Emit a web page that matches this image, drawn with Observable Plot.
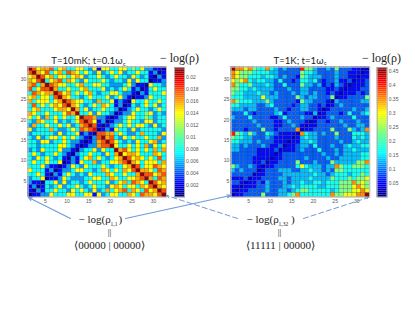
<!DOCTYPE html>
<html><head><meta charset="utf-8">
<script src="https://cdn.jsdelivr.net/npm/d3@7"></script>
<script src="https://cdn.jsdelivr.net/npm/@observablehq/plot@0.6"></script>
<style>
html,body{margin:0;padding:0;background:#fff;width:415px;height:312px;overflow:hidden}
#c{position:relative;width:415px;height:312px}
#c svg{position:absolute;left:0;top:0;background:transparent;overflow:visible}
</style></head><body><div id="c"></div>
<script>
// Estimated colour levels, top row first (y=32 down to y=1).
const rowsLeft = [
"9756 6735 6335 5325 1553 3553 4352 2110",
"7965 7356 3765 3532 5235 3523 3533 1201",
"5697 5635 5356 5233 5323 5332 5323 1021",
"6579 3567 3653 2533 3532 3325 2533 0112",
"6736 9765 5335 6335 5332 2235 2110 5332",
"7357 7963 3533 5633 3523 2353 1201 3533",
"3765 6697 5635 3563 2335 5322 1021 3335",
"5635 5379 6533 2353 3352 3521 0112 5333",
"6355 5356 9765 5332 6335 1210 5335 3353",
"3735 3565 7965 3235 3653 1201 3235 3523",
"3563 3356 6596 3523 3533 2012 3533 2353",
"6533 5333 5769 3352 5332 0122 5334 5232",
"5352 6353 5335 9776 2210 1235 5334 3233",
"3265 3352 3235 7975 1201 2235 3325 5233",
"2633 5335 3523 6797 1012 3535 3553 2523",
"5233 3632 2353 7678 0121 5332 5233 3332",
"2333 3325 2335 1210 7766 3532 2363 3325",
"3252 3553 5353 2102 7967 3253 5335 3362",
"3325 5233 5322 1012 6797 5323 2533 5623",
"3323 3335 5321 0122 6779 5335 3536 2535",
"2325 3335 2210 2335 2533 9675 3535 3636",
"3532 3353 2102 3353 3253 6956 6533 3653",
"3253 5323 1021 3563 5323 5697 5653 5373",
"3533 5335 0121 5336 2335 5679 6535 5536",
"3335 2110 1253 2533 3532 3356 9735 5765",
"5333 1201 2235 5332 3653 5365 7966 5376",
"3353 1021 3532 3253 3365 3353 3697 7567",
"2335 0112 5322 2335 5336 5335 5679 6376",
"2110 3352 5233 2353 3352 3563 7653 9756",
"1201 3235 2335 3235 3325 6535 5365 7965",
"1021 3353 3253 5325 2363 5673 6537 5697",
"0112 2533 3553 3551 5235 5336 5376 6579"
];
const rowsRight = [
"9776 7544 7432 3222 8553 2232 5222 1100",
"7655 5444 4332 2222 5443 2222 3221 1101",
"7655 4443 4432 3221 5433 3222 3221 1011",
"6567 4344 3324 2212 4434 2122 3112 0112",
"7544 5333 4322 4222 5332 3121 3210 1112",
"5544 3433 3322 2322 3322 2211 2101 1122",
"5443 3343 3232 2232 3323 2212 1011 1212",
"4443 3336 3332 2225 3233 2225 0112 2225",
"7544 4333 5322 2221 5332 2210 3222 2233",
"4433 3322 3422 2212 3322 1201 2322 2222",
"3332 3322 2232 2122 3322 1012 2222 3223",
"2224 2122 2234 1222 2113 0122 2124 2234",
"3222 4222 2112 4222 3220 1123 2222 4222",
"2222 2322 2211 2322 2101 2212 2322 2322",
"2222 2232 2211 2232 1011 2222 2232 2332",
"2221 2225 2212 2227 0112 2225 2225 3237",
"8543 5322 4321 1110 7433 2322 5222 4443",
"5443 3222 3211 1101 3433 2222 3222 4343",
"4433 3232 2211 1011 3343 2222 2322 3433",
"3323 2223 2112 0112 3324 2223 2234 3344",
"3322 2211 1120 1112 3222 4222 3233 4333",
"2222 2211 1101 2222 2222 2322 3233 3344",
"2222 2111 1011 2222 2322 2232 2333 3344",
"2222 2112 0112 2225 2223 2225 3333 3557",
"5322 3210 1122 2224 6433 3233 7544 5554",
"3232 2201 2223 3322 3343 3232 5544 4444",
"2222 2011 2222 3333 3334 3323 4443 4454",
"1112 0112 2223 3233 3343 3335 4445 4556",
"2210 1121 3222 3233 4334 4344 4555 7565",
"1101 1122 3222 3343 4444 3344 4555 6765",
"1011 2222 3223 3234 5544 4443 4555 6676",
"0112 2225 2223 3457 4444 4447 5566 6779"
];
// Value of each level digit
const levelsLeft  = [0.0009,0.0027,0.0055,0.0076,0.0108,0.0141,0.0158,0.0176,0.0195,0.0212];
const levelsRight = [0.03,0.055,0.09,0.13,0.166,0.23,0.29,0.35,0.40,0.453];
const tickVals = [5,10,15,20,25,30];
const barTicksLeft  = [0.002,0.004,0.006,0.008,0.01,0.012,0.014,0.016,0.018,0.02];
const barTicksRight = [0.05,0.1,0.15,0.2,0.25,0.3,0.35,0.4,0.45];
const jetStops = [0,0.11,0.34,0.5,0.65,0.89,1];
const jetColors = ["#000080","#0000ff","#00ffff","#80ff80","#ffff00","#ff0000","#800000"];
const W = 415, H = 312;

function cells(rows, levels){
  const out = [];
  rows.forEach((r,ri)=>{
    [...r.replace(/ /g,"")].forEach((d,ci)=>{
      out.push({x1:ci+1,x2:ci+2,y1:32-ri,y2:33-ri,v:levels[+d]});
    });
  });
  return out;
}
function colorScale(lo,hi){
  return {type:"linear",domain:jetStops.map(t=>lo+(hi-lo)*t),range:jetColors,interpolate:"rgb"};
}
function heat(rows,levels,lo,hi,L,R){
  return Plot.plot({width:W,height:H,marginLeft:L,marginRight:W-R,marginTop:66.7,marginBottom:H-196.7,
    x:{domain:[1,33]},y:{domain:[1,33]},color:colorScale(lo,hi),
    marks:[
      Plot.rect(cells(rows,levels),{x1:"x1",x2:"x2",y1:"y1",y2:"y2",fill:"v",stroke:"#333",strokeWidth:0.35,strokeOpacity:0.6,inset:0}),
      Plot.frame({stroke:"#bbb",strokeWidth:1}),
      Plot.axisX(tickVals,{tickSize:0,tickPadding:2,fontSize:5,fill:"#555",fontFamily:"Liberation Sans",label:null}),
      Plot.axisY(tickVals,{tickSize:0,tickPadding:2,fontSize:5,fill:"#555",fontFamily:"Liberation Sans",label:null})
    ]});
}
function bar(lo,hi,ticks,L,R){
  const n=64, s=(hi-lo)/n, lv=d3.range(n).map(i=>lo+s*i);
  return Plot.plot({width:W,height:H,marginLeft:L,marginRight:W-R,marginTop:67.3,marginBottom:H-196.7,
    x:{domain:[0,1]},y:{domain:[lo,hi]},color:colorScale(lo,hi),
    marks:[
      Plot.rect(lv,{x1:0,x2:1,y1:d=>d,y2:d=>d+s,fill:d=>d+s/2}),
      Plot.frame({stroke:"#aaa",strokeWidth:1}),
      Plot.axisX([],{tickSize:0,label:null}),
      Plot.axisY(ticks,{anchor:"right",tickSize:0,tickPadding:1.5,fontSize:5,fill:"#555",fontFamily:"Liberation Sans",label:null,tickFormat:d=>String(d)})
    ]});
}
const serif="Liberation Serif", sans="Lato";
const labels = [
  {t:"T=10mK; t=0.1ω",x:122,y:60.5,s:9.6,a:"end",f:sans},
  {t:"c",x:122.6,y:63.5,s:5.5,a:"start",f:sans},
  {t:"T=1K; t=1ω",x:323,y:60,s:9.6,a:"end",f:sans},
  {t:"c",x:323.6,y:63,s:5.5,a:"start",f:sans},
  {t:"− log(ρ)",x:179,y:58,s:12,a:"middle",f:serif},
  {t:"− log(ρ)",x:381,y:58,s:12,a:"middle",f:serif},
  {t:"− log(ρ",x:78,y:219,s:11,a:"start",f:serif},
  {t:"1,1",x:110,y:223.5,s:5.5,a:"start",f:serif},
  {t:")",x:118,y:219,s:11,a:"start",f:serif},
  {t:"||",x:109,y:232,s:9,a:"middle",f:serif},
  {t:"⟨00000 | 00000⟩",x:109,y:245,s:11,a:"middle",f:serif},
  {t:"− log(ρ",x:246,y:219,s:11,a:"start",f:serif},
  {t:"1,32",x:278,y:223.5,s:5.5,a:"start",f:serif},
  {t:")",x:290.5,y:219,s:11,a:"start",f:serif},
  {t:"||",x:279,y:232,s:9,a:"middle",f:serif},
  {t:"⟨11111 | 00000⟩",x:280,y:245,s:11,a:"middle",f:serif}
];
const solidArrows = [{x1:70,y1:218,x2:28,y2:197},{x1:125,y1:218,x2:230,y2:195}];
const dashArrows  = [{x1:237,y1:218,x2:166,y2:195},{x1:303,y1:218,x2:368,y2:197}];
const arrowColor = "#6c9bd6";
const overlay = Plot.plot({width:W,height:H,margin:0,
  x:{domain:[0,W],range:[0,W]},y:{domain:[0,H],range:[0,H]},axis:null,
  marks:[
    Plot.arrow(solidArrows,{x1:"x1",y1:"y1",x2:"x2",y2:"y2",stroke:arrowColor,strokeWidth:1.1,headLength:5,headAngle:50}),
    Plot.arrow(dashArrows,{x1:"x1",y1:"y1",x2:"x2",y2:"y2",stroke:arrowColor,strokeWidth:1,strokeDasharray:"5,3",headLength:5,headAngle:50}),
    ...labels.map(l=>Plot.text([l],{x:"x",y:"y",text:"t",fontSize:l.s,textAnchor:l.a,fontFamily:l.f,fill:"#222"}))
  ]});
const c = document.getElementById("c");
c.append(
  heat(rowsLeft,levelsLeft,0.0001,0.0216,27.7,166),
  heat(rowsRight,levelsRight,0,0.462,230.7,369.3),
  bar(0.0001,0.0216,barTicksLeft,174,184),
  bar(0,0.462,barTicksRight,376.7,386.7),
  overlay
);
</script></body></html>
